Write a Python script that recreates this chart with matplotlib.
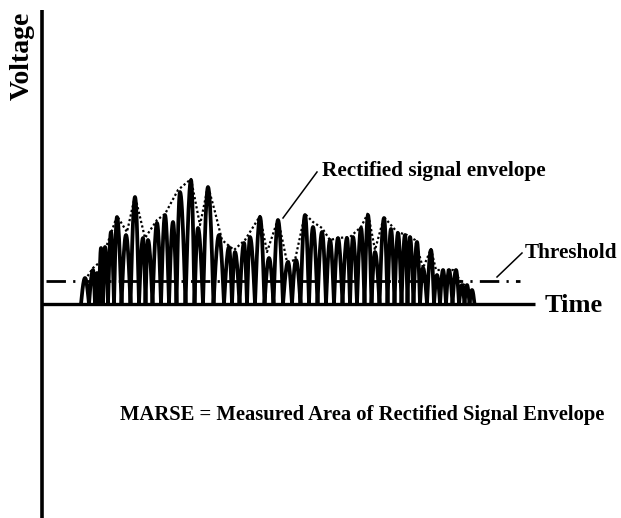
import numpy as np
import matplotlib
matplotlib.use("Agg")
import matplotlib.pyplot as plt

# ---- data (time units ~ arbitrary, voltage units ~ arbitrary) ----
peak_time = [43, 51, 55, 59, 63, 69, 75, 84, 93, 101, 106, 115, 123, 131, 138, 149, 156, 166,
             177, 187, 193, 202, 208, 218, 227, 236, 246, 254, 263, 271, 280, 288, 296, 305,
             311, 319, 326, 333, 342, 349, 356, 363, 368, 375, 381, 389, 395, 401, 407, 414,
             420, 425, 430]
peak_volt = [26, 34, 31, 56, 57, 72, 87, 69, 107, 66, 64, 81, 89, 82, 112, 124, 76, 117,
             69, 57, 52, 61, 67, 87, 46, 84, 42, 44, 89, 77, 72, 64, 66, 66,
             67, 76, 89, 52, 86, 75, 71, 69, 67, 62, 36, 54, 29, 34, 34, 34,
             19, 19, 14]

env_time = [43, 51, 58, 66, 75, 85, 93, 103, 115, 123, 136, 149, 158, 166, 173, 180, 192, 203,
            218, 225, 236, 245, 253, 263, 271, 280, 288, 296, 308, 319, 326, 333, 342, 355,
            365, 373, 381, 389, 394, 411, 420, 428]
env_volt = [24, 36, 42, 62, 88, 72, 108, 66, 84, 90, 114, 125, 79, 118, 92, 64, 54, 64,
            88, 52, 85, 42, 44, 90, 82, 76, 64, 66, 67, 77, 91, 54, 87, 72,
            69, 64, 36, 55, 34, 34, 21, 14]

threshold = 23

# ---- figure ----
fig = plt.figure(figsize=(6.21, 5.18), dpi=100)
ax = fig.add_axes([0, 0, 1, 1])
ax.set_xlim(-42, 579)
ax.set_ylim(-214, 304)
ax.axis("off")

# rectified signal lobes
pt = np.array(peak_time, dtype=float)
pv = np.array(peak_volt, dtype=float)
bounds = np.empty(len(pt) + 1)
bounds[1:-1] = (pt[:-1] + pt[1:]) / 2
bounds[0] = pt[0] - (pt[1] - pt[0]) / 2
bounds[-1] = pt[-1] + (pt[-1] - pt[-2]) / 2
xs, ys = [], []
for i in range(len(pt)):
    a, p, b, h = bounds[i], pt[i], bounds[i + 1], pv[i]
    u = np.linspace(0, 1, 12)
    xs.append(a + (p - a) * u)
    ys.append(h * np.sin(np.pi / 2 * u))
    xs.append(p + (b - p) * u[1:])
    ys.append(h * np.cos(np.pi / 2 * u[1:]))
ax.plot(np.concatenate(xs), np.concatenate(ys), color="black", lw=2.7,
        solid_joinstyle="round", zorder=3)

# envelope (dotted)
ax.plot(env_time, env_volt, color="black", lw=1.6, linestyle=(0, (1, 1.1)), zorder=4)

# threshold (dash-dot)
ax.plot([4, 478], [threshold, threshold], color="black", lw=2.0,
        linestyle=(0, (7, 2.6, 0.8, 2.6)), dash_capstyle="butt", zorder=2)

# axes
ax.plot([0, 0], [-214, 294], color="black", lw=2.6, solid_capstyle="butt", zorder=5)
ax.plot([0, 493], [0, 0], color="black", lw=2.4, solid_capstyle="butt", zorder=5)

# labels
font = dict(family="Liberation Serif", weight="bold", color="black")
ax.text(-20, 248, "Voltage", rotation=90, ha="center", va="center", fontsize=20, **font)
ax.text(503, -1, "Time", ha="left", va="center", fontsize=19, **font)
ax.text(280, 133, "Rectified signal envelope", ha="left", va="center", fontsize=15.3, **font)
ax.text(483, 51, "Threshold", ha="left", va="center", fontsize=15.2, **font)
ax.text(78, -111, "MARSE = Measured Area of Rectified Signal Envelope", ha="left",
        va="center", fontsize=14.9, **font)

# leader lines
ax.plot([275, 241], [132, 86], color="black", lw=1.1)
ax.plot([480, 455], [51, 27], color="black", lw=1.1)

fig.savefig("out.png", dpi=100)
